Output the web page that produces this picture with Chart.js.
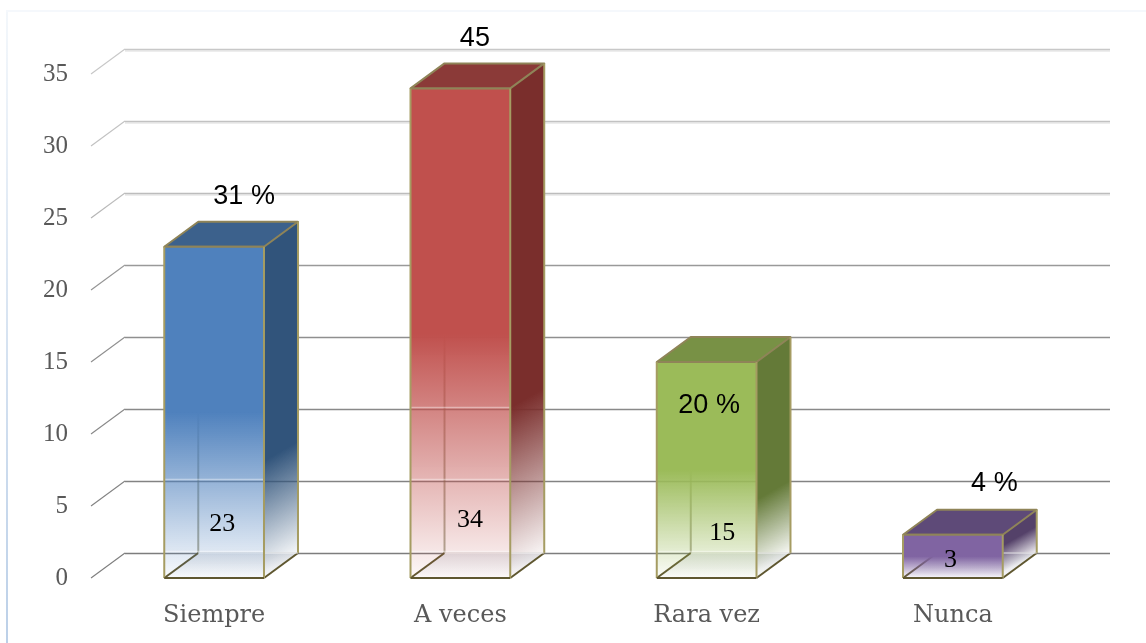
<!DOCTYPE html>
<html><head><meta charset="utf-8">
<style>html,body{margin:0;padding:0;background:#fff}#wrap{width:1146px;height:643px;position:relative}canvas{display:block}</style>
<script src="https://cdn.jsdelivr.net/npm/chart.js@4"></script>
</head><body><div id="wrap"><canvas id="c" width="1146" height="643"></canvas></div>
<script>
const categories = ["Siempre","A veces","Rara vez","Nunca"];
const values = [23,34,15,3];
const valueLabels = ["23","34","15","3"];
const percentLabels = ["31 %","45","20 %","4 %"];
const yTicks = [0,5,10,15,20,25,30,35];
const frontColors = ["79,129,189","192,80,77","155,187,89","128,100,162"];
const sideColors = ["49,84,123","122,46,44","100,122,56","84,65,105"];
const topColors = ["60,97,140","139,58,56","120,145,69","94,74,120"];
const percentOffsets = [[30,-50],[14.5,-50],[2.5,44],[41.5,-51]];
const valueOffsets = [[8,-54],[9.5,-58],[15.5,-45],[-2.5,-18]];
const DX = 34, DY = 25;
const EDGE = "#8f8458", EDGE_LOW = "#a59c62", EDGE_DARK = "#5f5730";

function lineBetween(ctx,x0,y0,x1,y1,style,w){
  ctx.beginPath();ctx.moveTo(x0,y0);ctx.lineTo(x1,y1);ctx.strokeStyle=style;ctx.lineWidth=w||1;ctx.stroke();
}
function fade(g,rgb,solidStop,endAlpha){
  g.addColorStop(0,`rgba(${rgb},1)`);
  g.addColorStop(solidStop,`rgba(${rgb},1)`);
  g.addColorStop(1,`rgba(${rgb},${endAlpha})`);
  return g;
}
const box3d = {
  id:"box3d",
  beforeDraw(chart){
    const {ctx,width,height}=chart;
    ctx.save();
    const g=ctx.createLinearGradient(0,11,0,height);
    g.addColorStop(0,"#f3f7fb");g.addColorStop(1,"#bcd0e8");
    ctx.fillStyle=g;ctx.fillRect(6,11,2,height-11);
    ctx.fillStyle="#f5f8fc";ctx.fillRect(6,10,width-6,2);
    ctx.restore();
  },
  beforeDatasetsDraw(chart){
    const {ctx,scales:{x,y},chartArea:a}=chart;
    const gridG=ctx.createLinearGradient(0,a.top-DY,0,a.bottom-DY);
    gridG.addColorStop(0,"#c8c8c8");gridG.addColorStop(.3,"#bcbcbc");gridG.addColorStop(.45,"#949494");gridG.addColorStop(1,"#7d7d7d");
    ctx.save();
    yTicks.forEach(v=>{
      const p=y.getPixelForValue(v);
      lineBetween(ctx,a.left,p,a.left+DX,p-DY,gridG,1.1);
      if(v>=25) lineBetween(ctx,a.left+DX,p-DY+2,a.right+DX,p-DY+2,"rgba(215,215,215,.6)",1.5);
      lineBetween(ctx,a.left+DX,p-DY+.5,a.right+DX,p-DY+.5,gridG,1.5);
    });
    const meta=chart.getDatasetMeta(0);
    meta.data.forEach((bar,i)=>{
      const hw=bar.width/2, x0=bar.x-hw, x1=bar.x+hw, t=bar.y, b=bar.base, h=b-t;
      // floor
      const fg=ctx.createLinearGradient(0,b-DY,0,b);
      fg.addColorStop(0,"rgba(226,228,232,.95)");fg.addColorStop(1,"rgba(255,255,255,.95)");
      ctx.beginPath();ctx.moveTo(x0,b);ctx.lineTo(x1,b);ctx.lineTo(x1+DX,b-DY);ctx.lineTo(x0+DX,b-DY);ctx.closePath();
      ctx.fillStyle=fg;ctx.fill();
      // rear vertical edge seen through the front
      lineBetween(ctx,x0+DX,b-DY,x0+DX,b-DY-h*.45,"rgba(110,105,70,.55)",2);
      // side
      const len=Math.max(h*.3,24);
      const ex=x1+DX, ey=b-DY;
      const sg=fade(ctx.createLinearGradient(ex-len*.5,ey-len*.87,ex,ey),sideColors[i],.03,.04);
      ctx.beginPath();ctx.moveTo(x1,t);ctx.lineTo(x1+DX,t-DY);ctx.lineTo(x1+DX,b-DY);ctx.lineTo(x1,b);ctx.closePath();
      ctx.fillStyle=sg;ctx.fill();
      // top
      ctx.beginPath();ctx.moveTo(x0,t);ctx.lineTo(x1,t);ctx.lineTo(x1+DX,t-DY);ctx.lineTo(x0+DX,t-DY);ctx.closePath();
      ctx.fillStyle=`rgb(${topColors[i]})`;ctx.fill();
      ctx.lineJoin="round";ctx.strokeStyle=EDGE;ctx.lineWidth=2;ctx.stroke();
      lineBetween(ctx,x1+DX,t-DY,x1+DX,b-DY,EDGE_LOW,2);
      lineBetween(ctx,x0,b,x0+DX,b-DY,EDGE_DARK,2);
      lineBetween(ctx,x1,b,x1+DX,b-DY,EDGE_DARK,2);
      lineBetween(ctx,x0+DX,b-DY,x1+DX,b-DY,"rgba(255,255,255,.85)",1);
    });
    ctx.restore();
  },
  afterDatasetsDraw(chart){
    const {ctx,scales:{y}}=chart;
    const meta=chart.getDatasetMeta(0);
    ctx.save();
    ctx.textAlign="center";ctx.textBaseline="middle";ctx.fillStyle="#000";
    meta.data.forEach((bar,i)=>{
      const hw=bar.width/2, t=bar.y, b=bar.base, fadeTop=t+(b-t)*.6;
      yTicks.forEach(v=>{
        const gy=y.getPixelForValue(v)-DY;
        if(gy>fadeTop && gy<b) lineBetween(ctx,bar.x-hw,gy-1.5,bar.x+hw,gy-1.5,"rgba(255,255,255,.4)",1.5);
      });
      lineBetween(ctx,bar.x-hw,t,bar.x+hw,t,EDGE,2);
      lineBetween(ctx,bar.x-hw,t,bar.x-hw,b,EDGE_LOW,2);
      lineBetween(ctx,bar.x+hw,t,bar.x+hw,b,EDGE_LOW,2);
      lineBetween(ctx,bar.x-hw,b,bar.x+hw,b,EDGE_DARK,2);
      ctx.font='27px "Liberation Sans"';
      ctx.fillText(percentLabels[i],bar.x+percentOffsets[i][0],t+percentOffsets[i][1]);
      ctx.font='26px "Liberation Serif"';
      ctx.fillText(valueLabels[i],bar.x+valueOffsets[i][0],b+valueOffsets[i][1]);
    });
    ctx.restore();
  }
};
new Chart(document.getElementById("c"),{
  type:"bar",
  data:{labels:categories,datasets:[{
    data:values,
    barPercentage:.405,categoryPercentage:1,
    backgroundColor(c){
      const {chart,dataIndex:i}=c;
      const a=chart.chartArea;
      if(!a) return `rgb(${frontColors[i]})`;
      const top=chart.scales.y.getPixelForValue(values[i]), bot=chart.scales.y.getPixelForValue(0);
      return fade(chart.ctx.createLinearGradient(0,top,0,bot),frontColors[i],.5,.03);
    }
  }]},
  options:{
    responsive:false,animation:false,
    layout:{padding:{top:74,right:70,left:0,bottom:0}},
    plugins:{legend:{display:false},tooltip:{enabled:false},title:{display:false}},
    scales:{
      x:{grid:{display:false},border:{display:false},
        ticks:{padding:15,color:"#595959",font:{family:'"DejaVu Serif"',size:24}},
        afterFit(s){s.height=65;}},
      y:{min:0,max:35,grid:{display:false},border:{display:false},
        afterBuildTicks(s){s.ticks=yTicks.map(v=>({value:v}));},
        ticks:{padding:15,color:"#595959",font:{family:'"Liberation Serif"',size:25}},
        afterFit(s){s.width=91;}}
    }
  },
  plugins:[box3d]
});
</script></body></html>
